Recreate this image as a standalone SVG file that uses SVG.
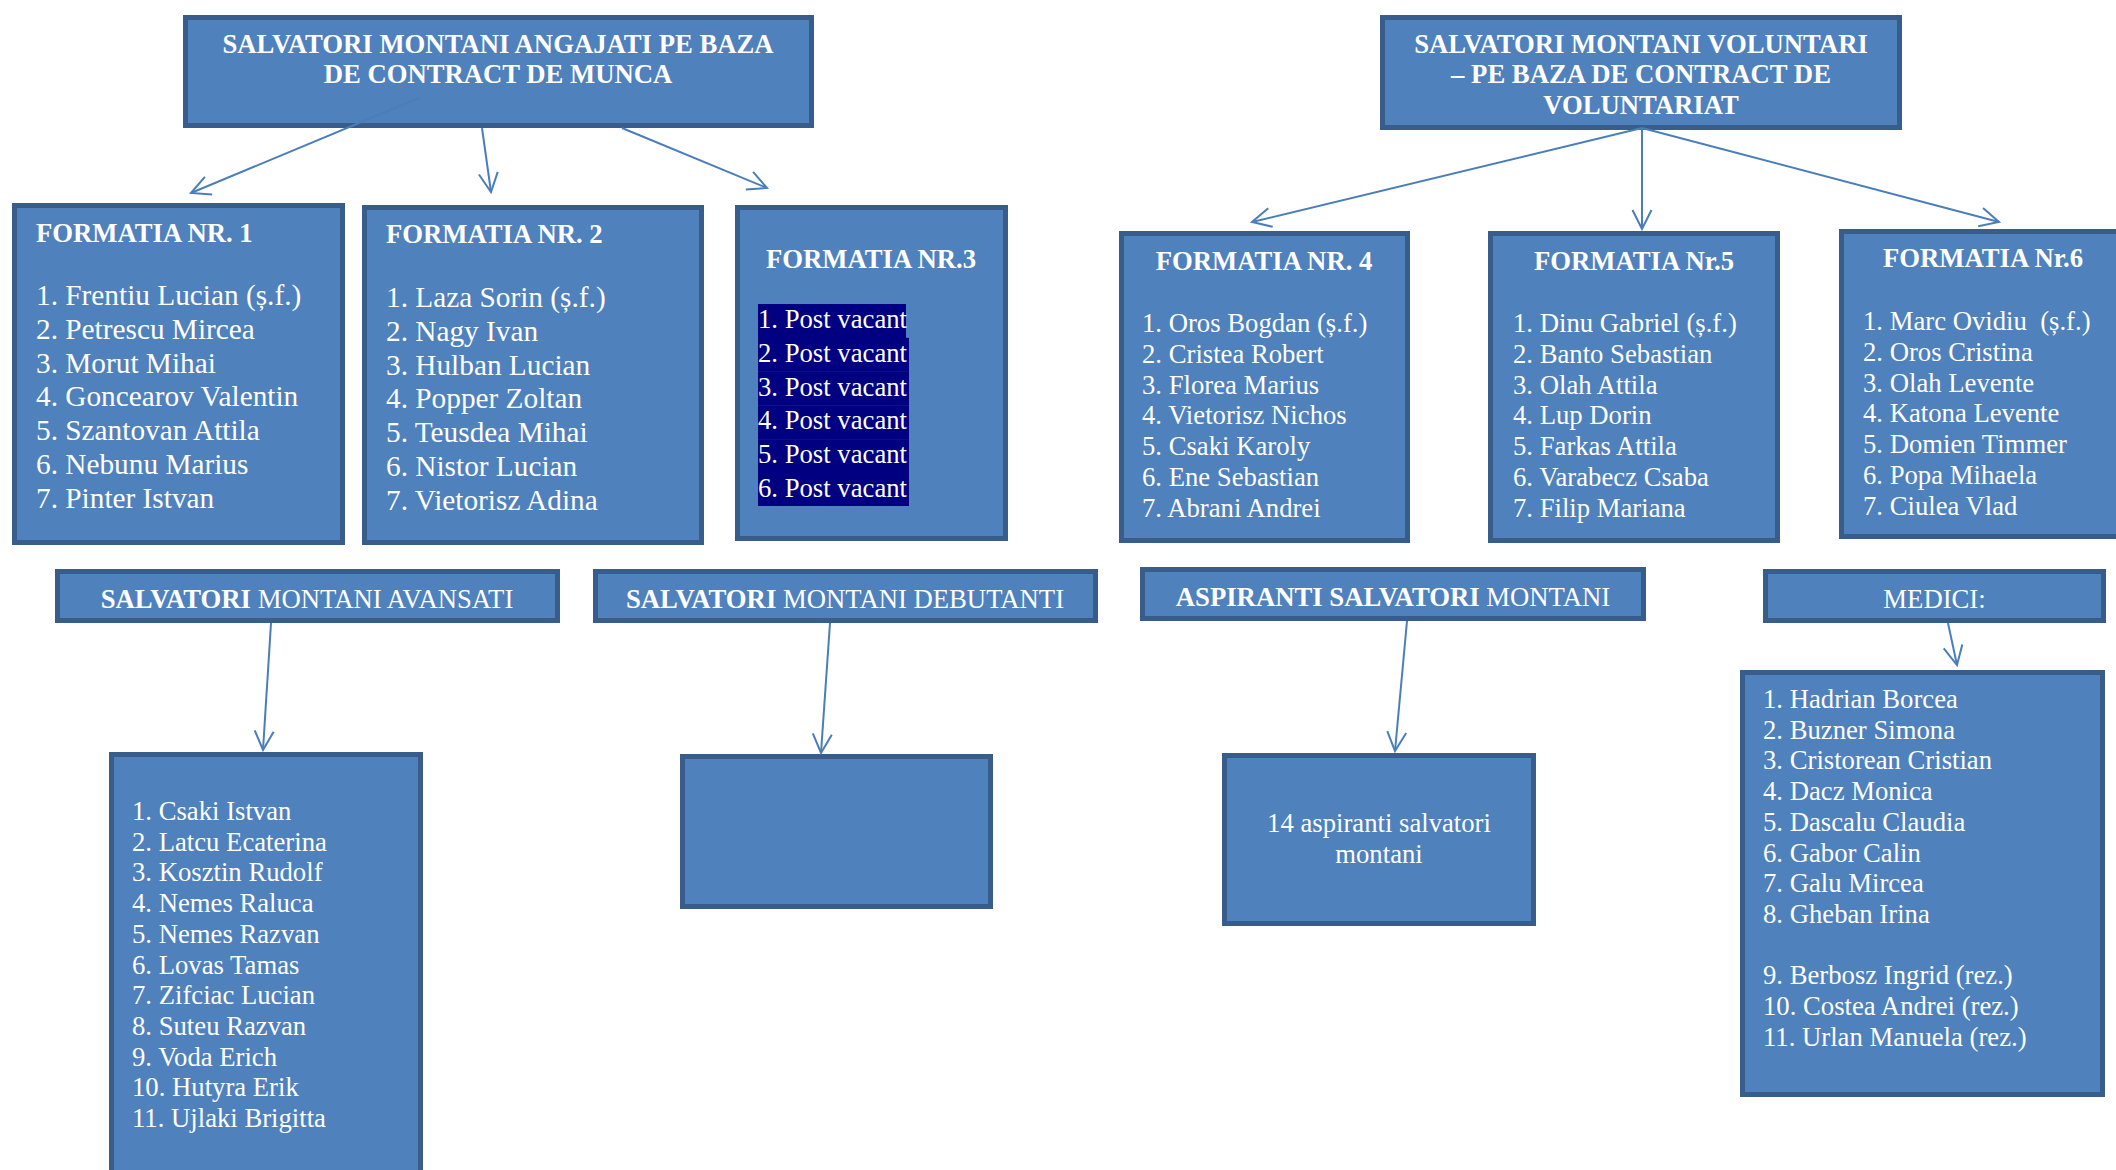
<svg xmlns="http://www.w3.org/2000/svg" width="2116" height="1170" viewBox="0 0 2116 1170">
<style>
.box{fill:#4f81bd;stroke:#385d8a;stroke-width:5}
text{font-family:"Liberation Serif","Times New Roman",serif;fill:#ffffff}
.h{font-size:26.7px;font-weight:bold}
.hc{font-size:26.7px;font-weight:bold;text-anchor:middle}
.it{font-size:29.3px}
.is{font-size:26.7px}
.c{text-anchor:middle}
.b{font-weight:bold}
.n{font-weight:normal}
.hl{fill:#000080}
.con{stroke:#4a7ebb;stroke-width:2;fill:none;marker-end:url(#arr)}
</style>
<defs>
<marker id="arr" markerUnits="userSpaceOnUse" markerWidth="22" markerHeight="22" viewBox="0 0 22 22" refX="20" refY="10.5" orient="auto">
<path d="M1,1 L20,10.5 L1,20" fill="none" stroke="#4a7ebb" stroke-width="2"/>
</marker>
</defs>
<rect width="2116" height="1170" fill="#ffffff"/>

<g id="top-angajati">
<rect class="box" x="185.5" y="17.5" width="626" height="108"/>
<text class="hc" x="498" y="53">SALVATORI MONTANI ANGAJATI PE BAZA</text>
<text class="hc" x="498" y="83">DE CONTRACT DE MUNCA</text>
</g>

<g id="top-voluntari">
<rect class="box" x="1382.5" y="17.5" width="517" height="110"/>
<text class="hc" x="1641" y="53">SALVATORI MONTANI VOLUNTARI</text>
<text class="hc" x="1641" y="83">– PE BAZA DE CONTRACT DE</text>
<text class="hc" x="1641" y="114">VOLUNTARIAT</text>
</g>

<g id="formatia1">
<rect class="box" x="14.5" y="205.5" width="328" height="337"/>
<text class="h" x="36" y="242">FORMATIA NR. 1</text>
<text class="it">
<tspan x="36" y="305">1. Frentiu Lucian (ș.f.)</tspan>
<tspan x="36" y="338.8">2. Petrescu Mircea</tspan>
<tspan x="36" y="372.6">3. Morut Mihai</tspan>
<tspan x="36" y="406.4">4. Goncearov Valentin</tspan>
<tspan x="36" y="440.2">5. Szantovan Attila</tspan>
<tspan x="36" y="474">6. Nebunu Marius</tspan>
<tspan x="36" y="507.8">7. Pinter Istvan</tspan>
</text>
</g>

<g id="formatia2">
<rect class="box" x="364.5" y="207.5" width="337" height="335"/>
<text class="h" x="386" y="243">FORMATIA NR. 2</text>
<text class="it">
<tspan x="386" y="307">1. Laza Sorin (ș.f.)</tspan>
<tspan x="386" y="340.8">2. Nagy Ivan</tspan>
<tspan x="386" y="374.6">3. Hulban Lucian</tspan>
<tspan x="386" y="408.4">4. Popper Zoltan</tspan>
<tspan x="386" y="442.2">5. Teusdea Mihai</tspan>
<tspan x="386" y="476">6. Nistor Lucian</tspan>
<tspan x="386" y="509.8">7. Vietorisz Adina</tspan>
</text>
</g>

<g id="formatia3">
<rect class="box" x="737.5" y="207.5" width="268" height="331"/>
<text class="hc" x="871" y="268">FORMATIA NR.3</text>
<rect class="hl" x="758" y="304" width="148" height="34"/>
<rect class="hl" x="758" y="337.8" width="151" height="34"/>
<rect class="hl" x="758" y="371.6" width="151" height="34"/>
<rect class="hl" x="758" y="405.4" width="151" height="34"/>
<rect class="hl" x="758" y="439.2" width="151" height="34"/>
<rect class="hl" x="758" y="473" width="151" height="33"/>
<text class="is">
<tspan x="758" y="328">1. Post vacant</tspan>
<tspan x="758" y="361.8">2. Post vacant</tspan>
<tspan x="758" y="395.6">3. Post vacant</tspan>
<tspan x="758" y="429.4">4. Post vacant</tspan>
<tspan x="758" y="463.2">5. Post vacant</tspan>
<tspan x="758" y="497">6. Post vacant</tspan>
</text>
</g>

<g id="formatia4">
<rect class="box" x="1121.5" y="233.5" width="286" height="307"/>
<text class="hc" x="1264" y="270">FORMATIA NR. 4</text>
<text class="is">
<tspan x="1142" y="332">1. Oros Bogdan (ș.f.)</tspan>
<tspan x="1142" y="362.8">2. Cristea Robert</tspan>
<tspan x="1142" y="393.6">3. Florea Marius</tspan>
<tspan x="1142" y="424.4">4. Vietorisz Nichos</tspan>
<tspan x="1142" y="455.2">5. Csaki Karoly</tspan>
<tspan x="1142" y="486">6. Ene Sebastian</tspan>
<tspan x="1142" y="516.8">7. Abrani Andrei</tspan>
</text>
</g>

<g id="formatia5">
<rect class="box" x="1490.5" y="233.5" width="287" height="307"/>
<text class="hc" x="1634" y="270">FORMATIA Nr.5</text>
<text class="is">
<tspan x="1513" y="332">1. Dinu Gabriel (ș.f.)</tspan>
<tspan x="1513" y="362.8">2. Banto Sebastian</tspan>
<tspan x="1513" y="393.6">3. Olah Attila</tspan>
<tspan x="1513" y="424.4">4. Lup Dorin</tspan>
<tspan x="1513" y="455.2">5. Farkas Attila</tspan>
<tspan x="1513" y="486">6. Varabecz Csaba</tspan>
<tspan x="1513" y="516.8">7. Filip Mariana</tspan>
</text>
</g>

<g id="formatia6">
<rect class="box" x="1841.5" y="231.5" width="290" height="305"/>
<text class="hc" x="1983" y="267">FORMATIA Nr.6</text>
<text class="is" xml:space="preserve"><tspan x="1863" y="330">1. Marc Ovidiu  (ș.f.)</tspan><tspan x="1863" y="360.8">2. Oros Cristina</tspan><tspan x="1863" y="391.6">3. Olah Levente</tspan><tspan x="1863" y="422.4">4. Katona Levente</tspan><tspan x="1863" y="453.2">5. Domien Timmer</tspan><tspan x="1863" y="484">6. Popa Mihaela</tspan><tspan x="1863" y="514.8">7. Ciulea Vlad</tspan></text>
</g>

<g id="hdr-avansati">
<rect class="box" x="57.5" y="571.5" width="500" height="49"/>
<text class="is c" x="307" y="607.5"><tspan class="b">SALVATORI</tspan> MONTANI AVANSATI</text>
</g>

<g id="hdr-debutanti">
<rect class="box" x="595.5" y="571.5" width="500" height="49"/>
<text class="is c" x="845" y="607.5"><tspan class="b">SALVATORI</tspan> MONTANI DEBUTANTI</text>
</g>

<g id="hdr-aspiranti">
<rect class="box" x="1142.5" y="569.5" width="501" height="49"/>
<text class="is c" x="1393" y="606"><tspan class="b">ASPIRANTI SALVATORI</tspan> MONTANI</text>
</g>

<g id="hdr-medici">
<rect class="box" x="1765.5" y="571.5" width="338" height="49"/>
<text class="is c" x="1934.5" y="607.5">MEDICI:</text>
</g>

<g id="list-avansati">
<rect class="box" x="111.5" y="754.5" width="309" height="500"/>
<text class="is">
<tspan x="132" y="820">1. Csaki Istvan</tspan>
<tspan x="132" y="850.7">2. Latcu Ecaterina</tspan>
<tspan x="132" y="881.4">3. Kosztin Rudolf</tspan>
<tspan x="132" y="912.1">4. Nemes Raluca</tspan>
<tspan x="132" y="942.8">5. Nemes Razvan</tspan>
<tspan x="132" y="973.5">6. Lovas Tamas</tspan>
<tspan x="132" y="1004.2">7. Zifciac Lucian</tspan>
<tspan x="132" y="1034.9">8. Suteu Razvan</tspan>
<tspan x="132" y="1065.6">9. Voda Erich</tspan>
<tspan x="132" y="1096.3">10. Hutyra Erik</tspan>
<tspan x="132" y="1127">11. Ujlaki Brigitta</tspan>
</text>
</g>

<g id="box-debutanti">
<rect class="box" x="682.5" y="756.5" width="308" height="150"/>
</g>

<g id="box-aspiranti">
<rect class="box" x="1224.5" y="755.5" width="309" height="168"/>
<text class="is c" x="1379" y="832">14 aspiranti salvatori</text>
<text class="is c" x="1379" y="863">montani</text>
</g>

<g id="list-medici">
<rect class="box" x="1742.5" y="672.5" width="360" height="422"/>
<text class="is">
<tspan x="1763" y="708">1. Hadrian Borcea</tspan>
<tspan x="1763" y="738.7">2. Buzner Simona</tspan>
<tspan x="1763" y="769.4">3. Cristorean Cristian</tspan>
<tspan x="1763" y="800.1">4. Dacz Monica</tspan>
<tspan x="1763" y="830.8">5. Dascalu Claudia</tspan>
<tspan x="1763" y="861.5">6. Gabor Calin</tspan>
<tspan x="1763" y="892.2">7. Galu Mircea</tspan>
<tspan x="1763" y="922.9">8. Gheban Irina</tspan>
<tspan x="1763" y="984.3">9. Berbosz Ingrid (rez.)</tspan>
<tspan x="1763" y="1015">10. Costea Andrei (rez.)</tspan>
<tspan x="1763" y="1045.7">11. Urlan Manuela (rez.)</tspan>
</text>
</g>

<g id="connectors">
<line class="con" x1="419" y1="98" x2="191" y2="193"/>
<line class="con" x1="482" y1="128" x2="491" y2="192"/>
<line class="con" x1="622" y1="128" x2="767" y2="188"/>
<line class="con" x1="1642" y1="128" x2="1252" y2="222"/>
<line class="con" x1="1642" y1="128" x2="1642" y2="229"/>
<line class="con" x1="1642" y1="128" x2="1999" y2="222"/>
<line class="con" x1="271" y1="623" x2="263" y2="750"/>
<line class="con" x1="830" y1="623" x2="821" y2="753"/>
<line class="con" x1="1407" y1="621" x2="1395" y2="751"/>
<line class="con" x1="1948" y1="623" x2="1957" y2="665"/>
</g>
</svg>
